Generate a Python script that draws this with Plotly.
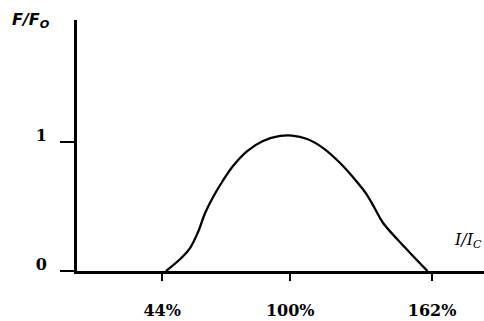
import plotly.graph_objects as go

# Relative force F/F0 against relative current I/Ic (percent)
current_pct = [45.7, 51.9, 56.2, 59.7, 62.8, 66.3, 70.2, 75.0, 81.2, 88.1, 95.6, 100.8,
               107.4, 114.4, 121.8, 129.2, 133.6, 137.1, 140.6, 146.7, 152.4, 160.0]
force_ratio = [0.0, 0.093, 0.178, 0.302, 0.45, 0.574, 0.69, 0.814, 0.93, 1.008, 1.047, 1.05,
               1.023, 0.953, 0.837, 0.69, 0.589, 0.481, 0.372, 0.248, 0.14, 0.0]

x_ticks = [44, 100, 162]
x_tick_text = ["44%", "100%", "162%"]
y_ticks = [0, 1]
y_tick_text = ["0", "1"]

tick_font = dict(family="DejaVu Serif", size=16, color="black", weight="bold")

fig = go.Figure()
fig.add_trace(go.Scatter(
    x=current_pct, y=force_ratio, mode="lines",
    line=dict(color="black", width=2.3, shape="spline", smoothing=1.0),
    hoverinfo="skip", showlegend=False,
))

fig.update_layout(
    width=484, height=321,
    margin=dict(l=77, r=0, t=20, b=50),
    paper_bgcolor="white", plot_bgcolor="white",
    xaxis=dict(
        range=[6.8, 184.7], tickvals=x_ticks, ticktext=x_tick_text,
        showgrid=False, zeroline=False, showline=True, linecolor="black", linewidth=3,
        ticks="outside", ticklen=7, tickwidth=1.5, tickcolor="black",
        tickfont=tick_font, ticklabelstandoff=16,
    ),
    yaxis=dict(
        range=[0, 1.946], tickvals=y_ticks, ticktext=y_tick_text,
        showgrid=False, zeroline=False, showline=True, linecolor="black", linewidth=3,
        ticks="outside", ticklen=14, tickwidth=1.5, tickcolor="black",
        tickfont=tick_font, ticklabelstandoff=10, ticklabelshift=-7,
    ),
    annotations=[
        dict(text="<i><b>F/F<sub>O</sub></b></i>", xref="paper", yref="paper",
             x=-0.165, y=1.0, xanchor="left", yanchor="middle", showarrow=False,
             font=dict(family="DejaVu Sans", size=16, color="black")),
        dict(text="<i>I/I<sub>C</sub></i>", xref="paper", yref="paper",
             x=0.922, y=0.12, xanchor="left", yanchor="middle", showarrow=False,
             font=dict(family="DejaVu Serif", size=16, color="black")),
    ],
)

fig.write_html("out.html")
